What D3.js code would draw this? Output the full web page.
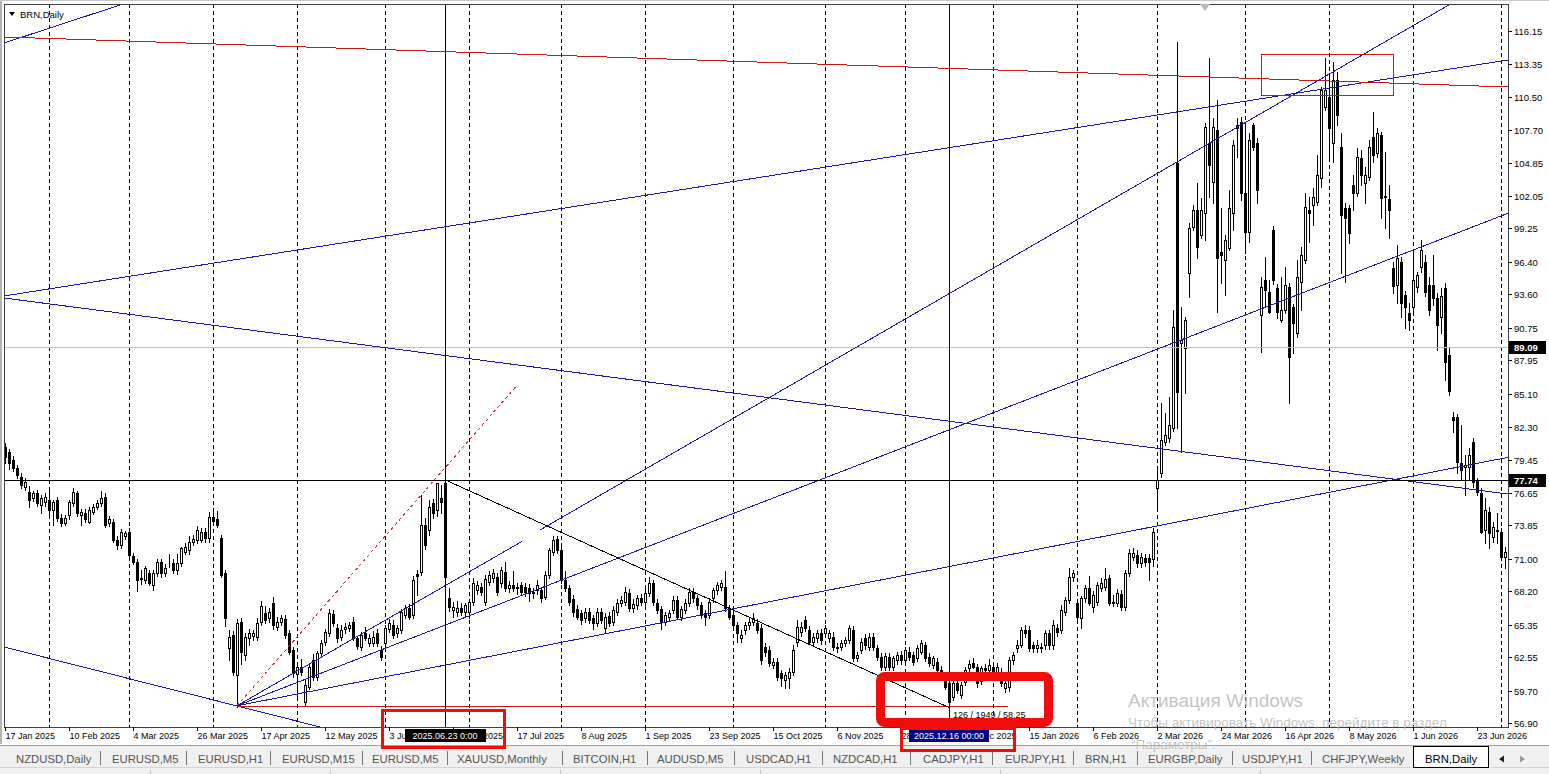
<!DOCTYPE html>
<html>
<head>
<meta charset="utf-8">
<script src="https://cdn.jsdelivr.net/npm/d3@7"></script>
<style>
html, body { margin: 0; padding: 0; background: #fff; overflow: hidden; }
svg text { font-family: "Liberation Sans", Arial, sans-serif; }
</style>
</head>
<body>
<svg id="chart" width="1549" height="774"></svg>
<script>
var firstDay = "2025-01-17";
var holidays = ["2025-04-18", "2025-12-25", "2026-01-01", "2026-04-03"];

var opens = [
80.57,80.15,79.43,78.72,78.0,77.15,76.72,76.15,76.58,75.58,
75.87,76.01,75.15,76.01,74.44,74.01,74.72,75.72,76.58,74.72,
74.87,74.15,75.01,75.44,75.72,76.29,74.01,74.15,72.58,72.16,
72.93,73.30,71.22,70.73,69.25,69.16,69.73,68.73,69.73,70.73,
69.80,70.60,70.59,70.02,70.59,71.59,71.73,72.44,72.58,72.58,
73.30,72.73,74.52,74.35,72.73,69.73,63.31,64.45,61.03,65.60,
62.75,64.17,64.37,64.31,65.60,66.31,65.88,67.17,65.17,65.60,
65.80,64.66,63.17,61.12,61.75,58.75,60.03,62.32,60.89,62.89,
63.89,64.60,66.25,65.03,64.31,64.94,65.03,65.60,64.17,63.46,
64.60,63.74,63.80,64.60,63.17,63.74,64.94,65.31,64.60,64.88,
66.17,66.74,66.17,69.65,69.88,73.87,73.44,75.73,75.16,76.15,
77.44,67.60,66.60,66.45,66.74,66.45,66.45,67.31,68.30,68.53,
67.31,69.02,69.30,69.44,68.87,69.88,68.45,68.73,68.45,68.73,
68.60,68.45,68.02,68.30,68.30,67.73,69.59,71.59,72.64,71.73,
69.16,68.45,67.51,66.65,66.31,65.88,66.45,65.88,65.45,66.45,
65.02,66.08,65.59,66.45,67.16,67.31,68.02,66.74,67.02,67.59,
67.31,68.02,68.87,67.22,66.65,65.59,66.02,66.59,67.45,66.02,
66.59,67.16,68.16,67.59,67.02,66.31,66.16,67.59,68.30,68.59,
68.59,66.74,66.17,65.31,64.17,64.88,65.31,65.60,65.46,65.03,
63.46,63.17,61.89,62.17,61.18,60.61,60.75,61.32,63.89,64.74,
65.74,64.88,63.89,64.17,64.60,64.60,64.17,64.31,63.46,63.46,
63.74,64.03,64.88,62.46,63.17,64.17,63.46,64.31,63.32,62.60,
61.75,62.60,61.75,62.32,62.75,62.32,63.03,62.75,62.46,63.03,
63.60,62.60,61.89,62.17,61.46,60.61,60.32,59.18,60.38,59.32,
60.46,61.60,62.03,61.75,60.50,61.60,61.46,61.75,61.18,61.32,
59.89,60.03,62.32,63.32,63.60,64.88,64.88,63.60,63.32,63.46,
63.60,64.60,63.60,65.03,64.88,66.45,67.45,69.45,67.17,65.88,
67.60,68.45,66.88,67.31,68.45,68.59,69.31,67.31,67.17,67.97,
66.88,69.73,71.16,71.30,70.59,71.02,71.02,71.00,77.01,78.29,
81.01,81.29,82.15,104.83,89.42,88.99,95.41,99.41,100.83,98.69,
100.55,106.54,103.26,107.68,97.27,96.55,97.55,100.55,107.82,108.39,
102.26,98.98,108.11,106.54,91.85,94.84,93.84,99.12,94.13,91.42,
92.27,94.27,92.55,90.28,94.70,96.55,100.83,101.26,101.54,103.54,
109.67,110.53,106.54,111.96,106.25,100.97,100.97,102.97,102.26,105.25,
103.11,103.68,107.11,105.68,107.25,102.03,101.74,95.90,94.41,96.41,
93.55,91.98,92.55,94.26,95.98,96.40,94.41,94.41,93.26,91.70,
94.12,88.40,83.14,83.14,79.15,78.80,78.86,81.00,77.72,76.64,
73.44,75.01,72.87,73.40,73.30,71.16
];
var highs = [
80.86,80.4,79.8,79.0,78.3,77.9,77.2,76.8,76.9,76.4,
76.6,77.1,76.0,76.3,74.8,74.7,76.0,77.0,76.8,75.2,
75.2,75.4,75.7,76.0,76.78,76.6,74.6,74.4,72.9,73.5,
73.4,73.6,71.5,71.0,70.0,70.4,70.0,70.0,71.0,71.0,
70.5,71.4,71.0,71.4,72.0,72.3,72.9,73.0,73.8,73.6,
73.6,75.0,75.2,75.1,73.0,70.0,64.9,64.8,65.8,65.9,
64.6,65.0,64.9,65.9,67.4,66.9,66.8,67.74,66.0,66.2,
66.2,64.9,63.4,62.0,62.4,60.6,62.0,62.8,63.1,64.0,
65.0,66.7,66.6,65.4,65.3,65.5,65.6,66.0,64.4,64.7,
65.1,64.5,64.8,65.0,63.5,65.3,65.8,65.7,65.3,66.7,
67.0,67.1,69.5,70.0,76.4,74.5,76.0,76.1,77.5,77.3,
77.74,68.5,67.3,67.4,67.2,67.2,67.5,69.3,69.1,68.9,
69.6,69.9,70.1,69.8,70.3,70.7,69.1,69.9,68.9,69.0,
68.9,68.8,68.5,69.2,68.6,69.9,71.9,72.9,72.9,72.0,
69.9,68.7,67.9,67.0,66.6,66.8,66.8,66.2,66.8,66.8,
66.3,66.4,66.9,67.5,67.8,68.6,68.4,67.5,67.9,68.0,
68.4,69.4,69.2,67.5,66.9,66.4,66.6,67.8,67.8,66.9,
67.5,68.5,68.5,67.9,67.3,66.6,67.6,68.5,69.0,69.2,
69.9,67.0,66.5,65.6,64.9,65.6,65.9,66.3,65.8,65.4,
63.8,63.5,62.5,62.5,61.5,61.3,61.6,63.6,65.7,65.6,
66.1,65.2,64.6,64.9,65.0,65.3,64.9,64.7,63.8,64.0,
64.3,65.3,65.2,63.0,64.2,64.5,64.6,64.6,63.6,62.9,
62.9,62.9,62.7,63.0,63.1,63.4,63.4,63.0,63.6,64.0,
63.9,62.9,62.7,62.5,61.8,61.0,60.6,60.5,60.7,60.4,
61.7,62.3,62.5,62.0,61.8,62.0,62.4,62.1,62.1,61.6,
60.6,62.6,63.0,64.0,65.1,65.3,65.2,63.9,64.0,63.8,
64.9,64.9,65.7,65.4,67.0,67.7,70.2,70.0,67.5,67.8,
68.7,69.5,68.2,69.0,69.3,70.2,69.6,67.9,68.4,68.3,
70.0,71.8,71.9,71.7,71.5,71.4,71.4,73.6,78.58,84.29,
83.43,84.86,92.27,115.24,92.56,91.70,99.69,101.26,103.12,101.83,
108.3,113.81,108.68,110.25,101.0,98.7,102.55,106.83,108.7,108.82,
108.1,107.40,108.3,107.0,95.13,96.8,94.84,99.5,94.5,95.13,
95.98,94.6,92.8,96.55,97.69,102.26,101.97,102.68,105.54,111.39,
113.81,112.53,113.53,112.67,107.39,101.40,101.3,103.83,106.11,105.97,
104.5,106.82,109.25,107.82,107.5,105.82,103.0,96.4,97.83,96.8,
93.9,92.9,97.26,95.55,98.26,96.97,95.12,96.97,93.69,94.12,
94.55,89.1,83.57,83.4,82.43,79.86,80.43,81.29,77.9,77.01,
76.15,75.44,74.15,74.87,73.58,72.01
];
var lows = [
79.2,78.7,78.5,77.9,77.0,76.9,75.4,75.9,75.5,74.9,
75.5,74.6,73.9,74.2,73.8,73.9,74.4,75.5,74.6,73.9,
74.1,74.0,74.8,75.2,75.5,73.7,73.8,72.4,71.8,71.9,
72.7,71.1,70.5,68.2,68.8,68.9,68.7,68.3,69.5,69.4,
69.5,70.3,69.8,69.7,70.4,71.4,71.4,72.2,72.3,72.4,
72.4,72.4,74.0,73.7,69.4,65.2,62.3,61.0,58.3,62.0,
62.3,63.6,64.0,64.0,65.3,65.5,65.6,65.0,64.9,65.3,
64.2,62.8,60.9,58.95,61.0,58.5,59.8,60.6,60.6,62.6,
63.6,64.4,65.2,63.9,64.0,64.6,64.8,64.0,63.3,63.2,
64.0,63.5,63.5,63.5,62.3,63.4,64.7,64.2,64.3,64.6,
65.9,65.8,65.9,67.9,69.6,71.8,73.0,74.5,74.6,74.9,
68.8,66.5,66.0,66.1,66.2,66.0,65.9,67.0,68.0,67.9,
67.0,68.7,69.0,67.9,68.6,68.2,68.1,68.2,68.0,67.9,
67.8,67.4,67.6,68.0,67.3,67.5,69.3,71.3,71.5,68.9,
68.2,67.0,66.1,65.8,65.4,65.6,65.5,65.0,65.2,65.5,
64.7,65.2,65.3,66.2,66.9,67.0,66.5,66.4,66.7,67.0,
67.0,67.8,67.0,66.3,65.0,65.3,65.7,66.3,65.8,65.7,
66.3,66.9,67.3,66.7,65.9,65.3,65.9,67.3,68.0,68.3,
66.5,65.8,65.0,63.9,63.9,64.5,65.0,65.3,64.6,62.0,
62.7,61.8,61.6,60.6,60.1,59.9,59.9,61.0,63.5,64.4,
64.8,63.7,63.6,63.9,63.7,64.3,63.9,63.2,63.0,63.2,
63.5,63.8,62.2,62.2,62.9,63.3,63.2,63.2,62.3,61.5,
61.5,61.5,61.5,62.0,62.0,62.0,62.3,61.9,62.2,62.8,
62.2,61.8,61.6,61.2,60.9,59.8,58.25,58.9,59.5,59.1,
60.2,61.4,61.6,60.0,60.3,61.1,61.2,60.6,60.9,60.1,
59.6,59.7,62.0,63.0,63.4,64.3,63.1,63.0,63.0,63.0,
63.3,63.3,63.3,64.4,64.6,66.2,67.2,69.1,65.5,65.03,
67.3,67.0,66.4,67.0,68.2,68.3,67.0,66.9,66.9,66.6,
66.6,69.5,70.9,70.3,70.3,70.4,69.2,70.4,75.44,78.0,
80.7,81.0,81.9,82.15,80.15,85.14,93.42,99.1,96.70,98.4,
98.27,101.97,101.40,92.13,94.56,93.56,97.4,99.12,105.4,101.69,
97.12,98.12,106.0,101.4,88.71,92.56,91.99,94.5,91.6,91.28,
92.0,84.29,88.6,90.0,92.27,96.3,98.12,99.55,101.3,102.83,
109.4,105.25,104.97,108.10,95.41,94.70,98.0,100.83,102.0,102.97,
101.40,103.4,104.97,105.4,100.12,99.26,98.40,93.7,92.84,91.70,
90.7,90.56,92.12,93.8,95.55,93.5,91.84,92.69,88.84,90.27,
86.27,85.0,81.86,78.29,77.72,76.44,77.72,77.15,76.44,73.16,
72.30,71.87,72.44,72.30,70.87,70.16
];
var closes = [
79.72,79.15,78.72,78.15,77.29,77.58,76.01,76.58,75.72,76.15,
76.29,75.15,75.87,74.44,74.01,74.44,75.87,76.72,74.87,75.01,
74.35,75.15,75.44,75.78,76.15,73.87,74.35,72.58,72.16,73.30,
73.16,71.30,70.73,69.16,69.30,70.16,68.88,69.73,70.73,69.73,
70.22,70.64,70.02,70.59,71.87,71.96,72.44,72.64,73.44,73.30,
72.73,74.58,74.24,73.87,69.59,65.88,64.31,61.32,65.45,63.03,
64.31,64.60,64.60,65.46,66.94,65.74,66.45,65.31,65.60,65.88,
64.46,63.03,61.18,61.75,61.32,60.18,61.75,60.89,62.89,63.74,
64.74,66.31,65.46,64.17,64.88,65.11,65.31,64.17,63.52,64.46,
64.17,64.17,64.31,63.74,62.60,65.03,65.46,64.46,65.03,66.45,
66.74,66.03,69.17,69.51,73.87,72.16,75.44,74.87,77.44,75.87,
69.45,66.88,66.88,66.74,66.45,67.02,67.31,68.87,68.73,68.16,
69.22,69.59,69.73,68.16,70.02,68.45,68.73,68.45,68.60,68.16,
68.16,68.02,68.10,68.73,67.59,69.59,71.73,72.58,71.73,69.16,
68.45,67.31,66.45,66.02,65.74,66.45,65.74,65.45,66.45,65.74,
66.02,65.51,66.59,67.16,67.45,68.16,66.74,67.11,67.59,67.31,
68.02,68.87,67.31,66.59,65.59,66.16,66.36,67.45,66.02,66.65,
67.22,68.16,67.59,67.02,66.16,66.02,67.31,68.30,68.73,68.88,
66.74,66.03,65.31,64.60,64.46,65.31,65.60,65.88,64.88,62.32,
63.03,62.03,62.17,60.89,60.75,61.05,61.32,63.17,65.17,65.17,
65.03,63.89,64.31,64.60,64.03,65.03,64.60,63.46,63.32,63.74,
64.03,65.03,62.46,62.75,63.89,63.60,64.31,63.46,62.60,61.75,
62.66,61.75,62.46,62.75,62.32,63.17,62.60,62.17,63.32,63.74,
62.46,62.03,62.46,61.46,61.32,60.03,58.75,60.32,59.75,60.18,
61.46,61.97,61.75,60.32,61.60,61.46,61.90,61.05,61.75,60.32,
60.32,62.32,62.75,63.60,64.88,64.60,63.32,63.32,63.60,63.32,
64.60,63.60,65.31,64.74,66.60,67.45,69.45,69.73,66.03,67.60,
68.45,67.17,67.88,68.74,68.88,69.22,67.17,67.17,68.02,66.88,
69.73,71.45,71.45,70.59,71.16,70.73,70.73,73.30,77.72,81.15,
81.58,82.43,90.85,85.28,89.71,91.42,99.26,100.83,97.69,100.83,
107.97,104.68,107.97,96.70,96.98,98.27,100.98,106.40,108.11,102.26,
98.98,106.83,106.25,102.55,94.27,93.99,92.13,94.84,92.13,92.27,
94.41,88.28,91.13,95.13,96.98,101.11,100.60,101.97,103.83,111.10,
111.10,107.82,111.96,108.96,100.40,100.12,98.83,102.26,105.39,103.83,
103.83,106.25,105.54,107.39,101.83,101.97,100.83,94.30,96.69,92.84,
92.55,91.41,94.83,95.26,97.40,93.84,92.27,93.26,90.98,93.47,
87.84,85.30,82.86,79.29,78.58,79.00,79.86,77.58,76.72,73.30,
75.15,73.16,73.73,73.44,71.16,71.59
];

var priceTicks = [116.15, 113.35, 110.50, 107.70, 104.85, 102.05, 99.25, 96.40, 93.60, 90.75,
                  87.95, 85.10, 82.30, 79.45, 76.65, 73.85, 71.00, 68.20, 65.35, 62.55, 59.70, 56.90];
var dateLabelEvery = 16;

// chart objects: [bar1, price1, bar2, price2]
var blueLinesBoth = [
	[-0.25, 115.12, 28, 118.29],
	[-0.25, 93.47, 375.75, 113.67],
	[-0.25, 93.30, 375.75, 76.52],
	[-0.25, 63.43, 58.75, 58.32]
];
var redLineBoth = [-0.25, 115.64, 375.75, 111.36];
var fanOrigin = [58, 58.4];
var fanRedDashedEnd = [128, 85.82];
var fanShortEnd = [129.25, 72.47];
var fanRayEnds = [[375.75, 100.55], [375.75, 79.66]];
var longBlueRay = [133.75, 73.44, 323.75, 111.02];
var measureLine = [110, 77.74, 236, 58.25];
var measureText = "126 / 1949 / 58.25";
var lowLevel = [58, 58.3, 250.75];
var hLineCross = 77.74;
var hLineGrey = 89.09;
var crossBars = [110, 236];
var crossLabels = ["2025.06.23 0:00", "2025.12.16 00:00"];
var redBox = [314, 114.18, 347, 110.59];

var tabNames = ["NZDUSD,Daily", "EURUSD,M5", "EURUSD,H1", "EURUSD,M15", "EURUSD,M5", "XAUUSD,Monthly",
	"BITCOIN,H1", "AUDUSD,M5", "USDCAD,H1", "NZDCAD,H1", "CADJPY,H1", "EURJPY,H1", "BRN,H1",
	"EURGBP,Daily", "USDJPY,H1", "CHFJPY,Weekly", "BRN,Daily"];

// ---- calendar ----
var dates = [];
var day = new Date(firstDay + "T00:00:00Z");
while (dates.length < closes.length)
{
	var dow = day.getUTCDay();
	var key = day.toISOString().slice(0, 10);
	if (dow != 0 && dow != 6 && holidays.indexOf(key) < 0) dates.push(new Date(day));
	day.setUTCDate(day.getUTCDate() + 1);
}

// ---- layout ----
var plotL = 4, plotT = 4, plotR = 1508, plotB = 727;
var BLUE = "#1a1aa0", RED = "#c41818", MARK = "#f20d0d";

var svg = d3.select("#chart");
var x = d3.scaleLinear().domain([0, closes.length - 1]).range([5, 1505]);
var y = d3.scaleLinear().domain([56.90, 116.15]).range([723.3, 31]);

svg.append("rect").attr("width", 1549).attr("height", 774).attr("fill", "#fff");
svg.append("rect").attr("x", 0).attr("y", 0).attr("width", 2).attr("height", 744).attr("fill", "#b4b4b4");
svg.append("line").attr("x1", 0).attr("x2", 1549).attr("y1", 0.5).attr("y2", 0.5).attr("stroke", "#c8c8c8");

svg.append("clipPath").attr("id", "plot").append("rect")
	.attr("x", plotL).attr("y", plotT).attr("width", plotR - plotL).attr("height", plotB - plotT);

var plot = svg.append("g").attr("clip-path", "url(#plot)");

// month grid
var monthStarts = d3.range(1, dates.length).filter(function(i) {
	return dates[i].getUTCMonth() != dates[i - 1].getUTCMonth();
});
plot.selectAll(".grid").data(monthStarts).enter().append("line")
	.attr("class", "grid")
	.attr("x1", function(i) { return Math.round(x(i)) + 0.5; })
	.attr("x2", function(i) { return Math.round(x(i)) + 0.5; })
	.attr("y1", plotT).attr("y2", plotB)
	.attr("stroke", "#000").attr("stroke-dasharray", "4,3")
	.attr("shape-rendering", "crispEdges");

// candles
var bars = d3.range(closes.length);
var candles = plot.append("g").attr("shape-rendering", "crispEdges");
candles.selectAll(".wick").data(bars).enter().append("line")
	.attr("x1", function(i) { return Math.round(x(i)) + 0.5; })
	.attr("x2", function(i) { return Math.round(x(i)) + 0.5; })
	.attr("y1", function(i) { return Math.round(y(highs[i])); })
	.attr("y2", function(i) { return Math.round(y(lows[i])) + 1; })
	.attr("stroke", "#000");
candles.selectAll(".body").data(bars).enter().append("rect")
	.attr("x", function(i) { return Math.round(x(i)) - 0.5; })
	.attr("width", 2)
	.attr("y", function(i) { return Math.round(y(Math.max(opens[i], closes[i]))) + 0.5; })
	.attr("height", function(i) {
		return Math.max(0, Math.round(y(Math.min(opens[i], closes[i]))) - Math.round(y(Math.max(opens[i], closes[i]))));
	})
	.attr("fill", function(i) { return closes[i] >= opens[i] ? "#fff" : "#000"; })
	.attr("stroke", "#000");

// objects
var objects = plot.append("g").attr("fill", "none").attr("shape-rendering", "crispEdges");

function extend(l, back, fwd)
{
	var k = (l[3] - l[1]) / (l[2] - l[0]);
	var a = back ? -20 : l[0], b = fwd ? 400 : l[2];
	return [a, l[1] + k * (a - l[0]), b, l[1] + k * (b - l[0])];
}
function seg(l, color, dash)
{
	return objects.append("line")
		.attr("x1", x(l[0])).attr("y1", y(l[1]))
		.attr("x2", x(l[2])).attr("y2", y(l[3]))
		.attr("stroke", color).attr("stroke-dasharray", dash || null);
}

objects.append("line").attr("x1", plotL).attr("x2", plotR)
	.attr("y1", Math.round(y(hLineGrey)) + 0.5).attr("y2", Math.round(y(hLineGrey)) + 0.5)
	.attr("stroke", "#c0c0c0");

blueLinesBoth.forEach(function(l) { seg(extend(l, true, true), BLUE); });
seg(extend(redLineBoth, true, true), RED);
seg([fanOrigin[0], fanOrigin[1], fanRedDashedEnd[0], fanRedDashedEnd[1]], "#d03030", "3,3");
seg([fanOrigin[0], fanOrigin[1], fanShortEnd[0], fanShortEnd[1]], BLUE);
fanRayEnds.forEach(function(e) { seg(extend([fanOrigin[0], fanOrigin[1], e[0], e[1]], false, true), BLUE); });
seg(extend(longBlueRay, false, true), BLUE);
seg([lowLevel[0], lowLevel[1], lowLevel[2], lowLevel[1]], RED);
seg(measureLine, "#000");

objects.append("rect")
	.attr("x", x(redBox[0])).attr("y", y(redBox[1]))
	.attr("width", x(redBox[2]) - x(redBox[0])).attr("height", y(redBox[3]) - y(redBox[1]))
	.attr("stroke", RED);

objects.append("line").attr("x1", plotL).attr("x2", plotR)
	.attr("y1", Math.round(y(hLineCross)) + 0.5).attr("y2", Math.round(y(hLineCross)) + 0.5)
	.attr("stroke", "#000");
objects.selectAll(".vcross").data(crossBars).enter().append("line")
	.attr("x1", function(i) { return Math.round(x(i)) + 0.5; })
	.attr("x2", function(i) { return Math.round(x(i)) + 0.5; })
	.attr("y1", plotT).attr("y2", plotB)
	.attr("stroke", function(d, k) { return k == 0 ? "#000" : "#000080"; });

plot.append("text").text(measureText)
	.attr("x", x(measureLine[2]) + 4).attr("y", y(measureLine[3]) + 10)
	.attr("font-size", "9px").attr("fill", "#000");

// frame and axes
svg.append("rect").attr("x", plotL + 0.5).attr("y", plotT + 0.5)
	.attr("width", plotR - plotL).attr("height", plotB - plotT)
	.attr("fill", "none").attr("stroke", "#404040").attr("shape-rendering", "crispEdges");

var yAxis = svg.append("g").attr("shape-rendering", "crispEdges");
priceTicks.forEach(function(p)
{
	var yy = Math.round(y(p)) + 0.5;
	yAxis.append("line").attr("x1", plotR).attr("x2", plotR + 4).attr("y1", yy).attr("y2", yy).attr("stroke", "#000");
	yAxis.append("text").text(p.toFixed(2)).attr("x", 1514).attr("y", yy + 3.5)
		.attr("font-size", "9.5px").attr("fill", "#000");
});
[hLineGrey, hLineCross].forEach(function(p)
{
	var yy = Math.round(y(p));
	yAxis.append("rect").attr("x", plotR + 1).attr("y", yy - 6).attr("width", 37).attr("height", 13).attr("fill", "#000");
	yAxis.append("text").text(p.toFixed(2)).attr("x", 1514).attr("y", yy + 4)
		.attr("font-size", "9.5px").attr("font-weight", "bold").attr("fill", "#fff");
});

var fmt = d3.utcFormat("%-d %b %Y");
var labelBars = d3.range(0, closes.length, dateLabelEvery);
var xAxis = svg.append("g");
labelBars.forEach(function(i)
{
	var xx = Math.round(x(i)) + 0.5;
	xAxis.append("line").attr("x1", xx).attr("x2", xx).attr("y1", plotB).attr("y2", plotB + 4)
		.attr("stroke", "#000").attr("shape-rendering", "crispEdges");
	xAxis.append("text").text(fmt(dates[i])).attr("x", xx).attr("y", 739)
		.attr("font-size", "9px").attr("fill", "#000");
});
crossBars.forEach(function(i, k)
{
	var xx = Math.round(x(i));
	xAxis.append("rect").attr("x", xx - 40).attr("y", 729).attr("width", k == 0 ? 81 : 80).attr("height", 13)
		.attr("fill", k == 0 ? "#000" : "#000080");
	xAxis.append("text").text(crossLabels[k]).attr("x", xx).attr("y", 739).attr("text-anchor", "middle")
		.attr("font-size", "9px").attr("fill", "#fff");
});

// header
svg.append("path").attr("d", "M9,12 L15,12 L12,16 Z").attr("fill", "#000");
svg.append("text").text("BRN,Daily").attr("x", 20).attr("y", 18).attr("font-size", "9.5px").attr("fill", "#000");
svg.append("path").attr("d", "M1200,4 L1210,4 L1205,11 Z").attr("fill", "#b8b8b8");

// tab bar
var tabs = svg.append("g");
tabs.append("rect").attr("x", 0).attr("y", 745).attr("width", 1549).attr("height", 29).attr("fill", "#f0f0f0");
tabs.append("line").attr("x1", 0).attr("x2", 1549).attr("y1", 745.5).attr("y2", 745.5).attr("stroke", "#a0a0a0");
tabs.append("line").attr("x1", 0).attr("x2", 1549).attr("y1", 767.5).attr("y2", 767.5).attr("stroke", "#d4d4d4");
var tabX = [16, 112, 198, 282, 372, 457, 573, 657, 746, 833, 923, 1005, 1085, 1148, 1242, 1322, 1425];
var sepX = [100, 186, 270, 362, 447, 562, 647, 734, 822, 910, 992, 1073, 1137, 1232, 1311];
tabs.append("rect").attr("x", 1413.5).attr("y", 746.5).attr("width", 75).attr("height", 21)
	.attr("fill", "#fff").attr("stroke", "#000");
sepX.forEach(function(s)
{
	tabs.append("line").attr("x1", s + 0.5).attr("x2", s + 0.5).attr("y1", 751).attr("y2", 765).attr("stroke", "#777");
});
tabNames.forEach(function(t, k)
{
	tabs.append("text").text(t).attr("x", tabX[k]).attr("y", 763)
		.attr("font-size", "11.3px").attr("fill", k == tabNames.length - 1 ? "#000" : "#555");
});
tabs.append("path").attr("d", "M1499,759 L1504,755.5 L1504,762.5 Z").attr("fill", "#222");
tabs.append("path").attr("d", "M1525,759 L1520,755.5 L1520,762.5 Z").attr("fill", "#9a9a9a");
[150, 330, 560, 760, 1000, 1260].forEach(function(s)
{
	tabs.append("line").attr("x1", s + 0.5).attr("x2", s + 0.5).attr("y1", 769).attr("y2", 774).attr("stroke", "#c8c8c8");
});

// hand-drawn marks on the screenshot (drawn over everything, incl. tab bar)
var marks = svg.append("g").attr("fill", "none").attr("stroke", MARK);
marks.append("rect").attr("x", 382.5).attr("y", 710.5).attr("width", 122).attr("height", 37).attr("stroke-width", 3);
marks.append("rect").attr("x", 901.5).attr("y", 728.5).attr("width", 113).attr("height", 22).attr("stroke-width", 3);
marks.append("rect").attr("x", 880.5).attr("y", 676.5).attr("width", 168).attr("height", 46)
	.attr("rx", 4).attr("stroke-width", 9);

// windows activation watermark
var wm = svg.append("g").attr("fill", "#b9b9b9").attr("fill-opacity", 0.85).style("font-family", "'Noto Sans', sans-serif");
wm.append("text").text("Активация Windows").attr("x", 1128).attr("y", 707).attr("font-size", "19px");
wm.append("text").text("Чтобы активировать Windows, перейдите в раздел").attr("x", 1128).attr("y", 727).attr("font-size", "13.5px");
wm.append("text").text("\u201cПараметры\u201d.").attr("x", 1131).attr("y", 749).attr("font-size", "13.5px");
</script>
</body>
</html>
